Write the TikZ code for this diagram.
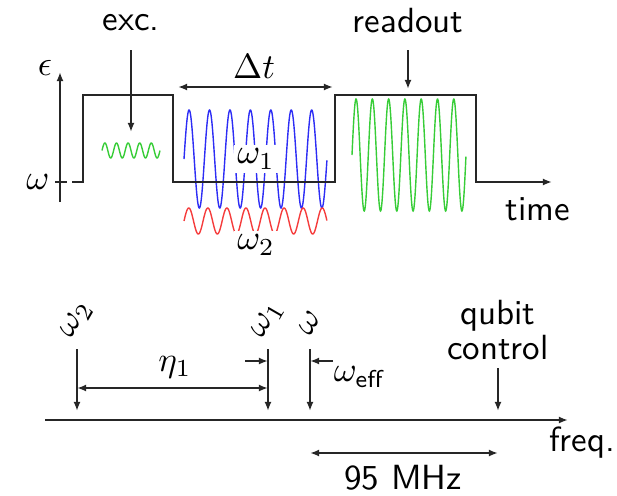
\documentclass[tikz,border=0pt]{standalone}
\usetikzlibrary{arrows.meta}
\definecolor{wblue}{RGB}{45,45,245}
\definecolor{wred}{RGB}{245,60,60}
\definecolor{wgreen}{RGB}{55,205,55}
\begin{document}
\begin{tikzpicture}[x=0.286pt,y=-0.286pt,font=\sffamily,
  ln/.style={line width=0.55pt,black!85},
  arr/.style={ln,-{Latex[length=2.6pt,width=2pt]}},
  darr/.style={ln,{Latex[length=2.6pt,width=2pt]}-{Latex[length=2.6pt,width=2pt]}},
  wave/.style={line width=0.4pt},
  lbl/.style={inner sep=1pt},
  wlbl/.style={inner sep=1pt,fill=white}]
\useasboundingbox (0,0) rectangle (617,495);

% ---- waves
\draw[wave,wgreen] plot[domain=0:5,samples=200] ({102+58*\x/5},{150.5-7.5*sin(360*\x)});
\draw[wave,wblue] plot[domain=0:7,samples=400] ({184+143*\x/7},{159-49*sin(360*\x)});
\draw[wave,wred] plot[domain=0:7.5,samples=400] ({184+143*\x/7.5},{221-13*sin(360*\x)});
\draw[wave,wgreen] plot[domain=0:7,samples=400] ({352+114*\x/7},{155-56*sin(360*\x)});

% ---- time axis and pulse
\coordinate (ybot) at (60,202);
\coordinate (ytop) at (60,72);
\draw[arr] (ybot) -- (ytop);
\node[lbl] (eps) at (45,68) {$\epsilon$};
\node[lbl] (om) at (38,182) {$\omega$};
\draw[ln] (55,182) -- (67,182);
\draw[arr] (72,182) -- (83,182) -- (83,95) -- (173,95) -- (173,182) -- (335,182)
  -- (335,95) -- (476,95) -- (476,182) -- (552,182);
\node[lbl] (time) at (538,209) {time};

\node[lbl] (exc) at (131,23) {exc.};
\coordinate (excA) at (131,50);
\coordinate (excB) at (131,132);
\draw[arr] (excA) -- (excB);

\node[lbl] (ro) at (408,21) {readout};
\coordinate (roA) at (408,50);
\coordinate (roB) at (408,89);
\draw[arr] (roA) -- (roB);

\node[lbl] (dt) at (254,67) {$\Delta t$};
\coordinate (dtA) at (178,87);
\coordinate (dtB) at (333,87);
\draw[darr] (dtA) -- (dtB);

\node[wlbl] (w1) at (256,159) {$\omega_1$};
\node[wlbl] (w2) at (256,245) {$\omega_2$};

% ---- frequency axis
\coordinate (fA) at (45,420);
\coordinate (fB) at (568,420);
\draw[arr] (fA) -- (fB);
\node[lbl] (freq) at (582,443) {freq.};

\node[lbl,rotate=60] (fw2) at (77,320) {$\omega_2$};
\node[lbl,rotate=60] (fw1) at (268,320) {$\omega_1$};
\node[lbl,rotate=60] (fw) at (310,323) {$\omega$};
\node[lbl,align=center,font={\sffamily\fontsize{10}{8.3}\selectfont}] (qc) at (498,330) {qubit\\control};

\coordinate (a2) at (77,349);  \coordinate (b2) at (77,411);
\coordinate (a1) at (268,349); \coordinate (b1) at (268,411);
\coordinate (a0) at (310,349); \coordinate (b0) at (310,411);
\coordinate (aq) at (498,368); \coordinate (bq) at (498,411);
\draw[arr] (a2) -- (b2);
\draw[arr] (a1) -- (b1);
\draw[arr] (a0) -- (b0);
\draw[arr] (aq) -- (bq);

\coordinate (e1) at (77,388); \coordinate (e2) at (268,388);
\draw[darr] (e1) -- (e2);
\node[lbl] (eta) at (175,367) {$\eta_1$};

\coordinate (s1) at (245,361); \coordinate (s2) at (268,361);
\draw[arr] (s1) -- (s2);
\coordinate (t1) at (333,361); \coordinate (t2) at (310,361);
\draw[arr] (t1) -- (t2);
\node[lbl] (weff) at (360,377) {$\omega_{\mathsf{eff}}$};

\coordinate (m1) at (310,453); \coordinate (m2) at (498,453);
\draw[darr] (m1) -- (m2);
\node[lbl] (mhz) at (403,478) {95 MHz};
\end{tikzpicture}
\end{document}
